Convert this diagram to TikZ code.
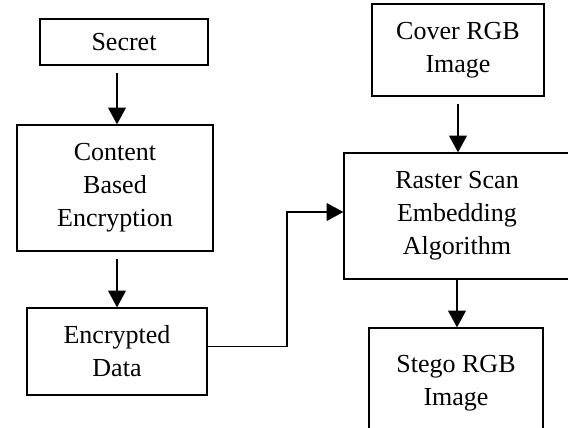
\documentclass[tikz,border=0pt]{standalone}
\usepackage{fontspec}
\setmainfont{Liberation Serif}
\usetikzlibrary{arrows.meta}
\begin{document}
\begin{tikzpicture}[x=0.02cm,y=-0.02cm,line cap=butt,line join=miter,
	blk/.style={draw,line width=0.7pt,inner sep=0pt,align=center,font=\fontsize{14.8}{18.7}\selectfont},
	arr/.style={line width=1pt,-{Triangle[length=9.5pt,width=10pt]}}]
		\useasboundingbox (0,0) rectangle (568,427);
		\clip (0,0) rectangle (568,427);
		\node[blk,minimum width=3.36cm,minimum height=0.92cm] (secret) at (124,42) {Secret};
		\node[blk,minimum width=3.92cm,minimum height=2.52cm] (cbe) at (115,188) {Content\\Based\\Encryption};
		\node[blk,minimum width=3.6cm,minimum height=1.74cm] (ed) at (117,351.5) {Encrypted\\Data};
		\node[blk,minimum width=3.44cm,minimum height=1.84cm] (cover) at (458,50) {Cover RGB\\Image};
		\node[blk,minimum width=4.52cm,minimum height=2.52cm] (raster) at (457,216) {Raster Scan\\Embedding\\Algorithm};
		\node[blk,minimum width=3.48cm,minimum height=2.2cm] (stego) at (456,383) {Stego RGB\\Image};
		\coordinate (jn) at (287,212);
		\draw[arr,shorten <=4pt] (secret.south -| ed.north) -- (cbe.north -| ed.north);
		\draw[arr,shorten <=4pt] (cbe.south -| ed.north) -- (ed.north);
		\draw[arr,shorten <=4pt] (cover.south) -- (cover.south |- raster.north);
		\draw[arr] (raster.south) -- (raster.south |- stego.north);
		\draw[line width=1pt,-{Triangle[length=9.5pt,width=10pt]}] ([yshift=0.1cm]ed.east) -| (jn) -- (jn -| raster.west);
\end{tikzpicture}
\end{document}
